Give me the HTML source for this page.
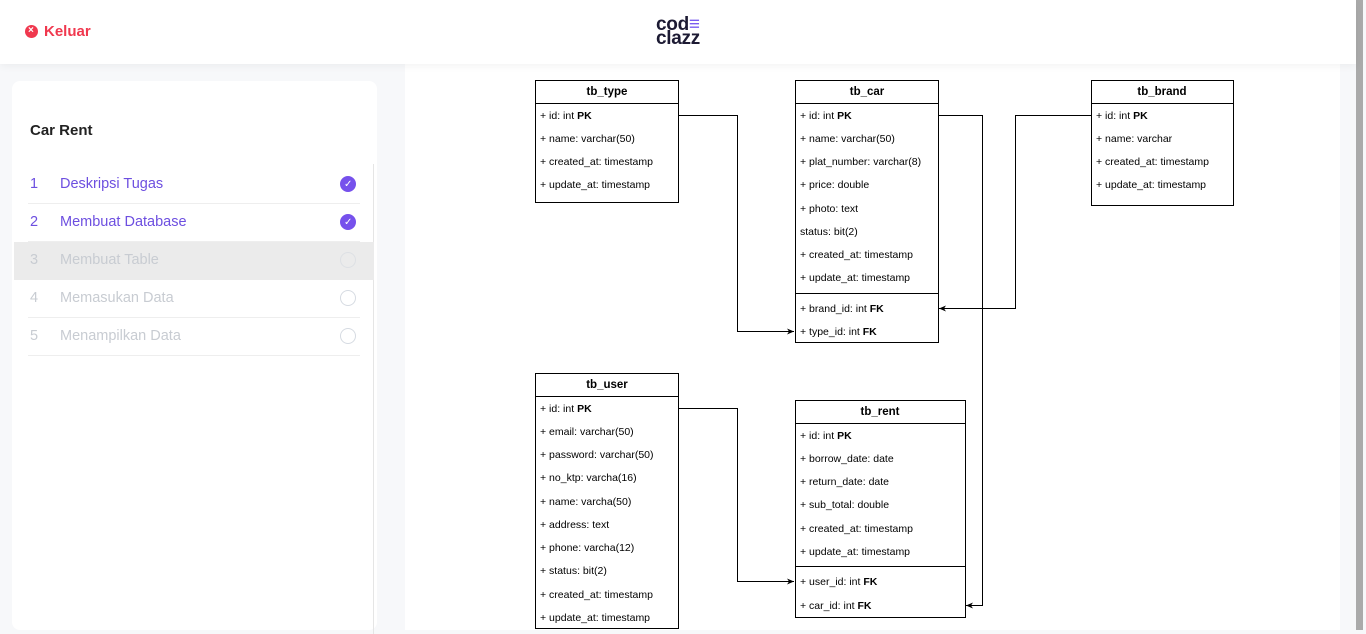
<!DOCTYPE html>
<html><head><meta charset="utf-8"><style>
html,body{margin:0;padding:0;width:1366px;height:630px;overflow:hidden;background:#f7f8fa;font-family:"Liberation Sans",sans-serif;}
.header{position:absolute;left:0;top:0;width:1356px;height:64px;background:#fff;box-shadow:0 2px 8px rgba(0,0,0,0.05);z-index:2}
.keluar{position:absolute;left:25px;top:23px;color:#f0384e;font-weight:bold;font-size:15px;line-height:18px}
.keluar span{display:inline-block;width:13px;height:13px;border-radius:50%;background:#f0384e;vertical-align:-2px;margin-right:6px;position:relative}
.keluar span:after{content:"×";position:absolute;left:3px;top:-3px;color:#fff;font-size:10px}
.logo{position:absolute;left:656px;top:18px;font-weight:bold;font-size:19px;line-height:14px;color:#1c1a33;letter-spacing:-0.3px}
.card{position:absolute;left:12px;top:81px;width:365px;height:549px;background:#fff;border-radius:8px}
.card h2{position:absolute;left:18px;top:41px;margin:0;font-size:15px;font-weight:bold;color:#222}
.vline{position:absolute;left:361px;top:83px;width:1px;height:470px;background:#e5e5e5}
.item{position:absolute;left:16px;width:332px;height:37px;border-bottom:1px solid #eee;font-size:14.5px;line-height:37px}
.item .n{position:absolute;left:2px}
.item .t{position:absolute;left:32px}
.item .c{position:absolute;right:4px;top:10px;width:14px;height:14px;border-radius:50%;border:1.5px solid #d6dbe2}
.item.done{color:#6d4fe0}
.item.done .c{background:#7651ec;border-color:#7651ec}
.item.done .c:after{content:"✓";color:#fff;font-size:10px;position:absolute;left:3px;top:-11px}
.item.dim{color:#c8ccd2}
.hl{position:absolute;left:2px;top:161px;width:360px;height:38px;background:#ebebeb}
.panel{position:absolute;left:405px;top:64px;width:935px;height:566px;background:#fff}
.scroll{position:absolute;left:1356px;top:0;width:7px;height:630px;background:#aaa}
svg{position:absolute;left:0;top:0}
svg text{font-family:"Liberation Sans",sans-serif;font-size:10.5px;fill:#000}
svg .h{font-weight:bold;font-size:11.5px}
</style></head><body>
<div class="panel"></div>
<div class="header"><div class="keluar"><span></span>Keluar</div>
<div class="logo">cod<span style="color:#7b5cf0">≡</span><br>clazz</div></div>
<div class="card"><h2>Car Rent</h2>
<div class="vline"></div>
<div class="hl"></div>
<div class="item done" style="top:85px"><span class="n">1</span><span class="t">Deskripsi Tugas</span><span class="c"></span></div>
<div class="item done" style="top:123px"><span class="n">2</span><span class="t">Membuat Database</span><span class="c"></span></div>
<div class="item dim" style="top:161px;border-bottom:none"><span class="n">3</span><span class="t">Membuat Table</span><span class="c" style="border-color:#dde0e4"></span></div>
<div class="item dim" style="top:199px"><span class="n">4</span><span class="t">Memasukan Data</span><span class="c"></span></div>
<div class="item dim" style="top:237px"><span class="n">5</span><span class="t">Menampilkan Data</span><span class="c"></span></div>
</div>
<div class="scroll"></div>
<svg width="1366" height="630" viewBox="0 0 1366 630">
<defs><marker id="a" markerWidth="8" markerHeight="8" refX="7" refY="4" orient="auto" markerUnits="userSpaceOnUse"><path d="M0,1 L7,4 L0,7 L2,4 Z" fill="#000"/></marker></defs>
<g fill="none" stroke="#000" stroke-width="1">
<rect x="535.5" y="80.5" width="143" height="122"/><line x1="535" y1="103.5" x2="678" y2="103.5"/>
<rect x="795.5" y="80.5" width="143" height="262"/><line x1="795" y1="103.5" x2="938" y2="103.5"/><line x1="795" y1="293.5" x2="938" y2="293.5"/>
<rect x="1091.5" y="80.5" width="142" height="125"/><line x1="1091" y1="103.5" x2="1233" y2="103.5"/>
<rect x="535.5" y="373.5" width="143" height="255"/><line x1="535" y1="396.5" x2="678" y2="396.5"/>
<rect x="795.5" y="400.5" width="170" height="217"/><line x1="795" y1="423.5" x2="965" y2="423.5"/><line x1="795" y1="566.5" x2="965" y2="566.5"/>
<polyline points="678,115.5 737.5,115.5 737.5,331.5 794,331.5" marker-end="url(#a)"/>
<polyline points="938,115.5 982.5,115.5 982.5,605.5 966,605.5" marker-end="url(#a)"/>
<polyline points="1091,115.5 1015.5,115.5 1015.5,308.5 939,308.5" marker-end="url(#a)"/>
<polyline points="678,408.5 737.5,408.5 737.5,581.5 794,581.5" marker-end="url(#a)"/>
</g>
<text class="h" x="607" y="95" text-anchor="middle">tb_type</text>
<text x="540" y="119">+ id: int <tspan font-weight="bold">PK</tspan></text>
<text x="540" y="142">+ name: varchar(50)</text>
<text x="540" y="165">+ created_at: timestamp</text>
<text x="540" y="188">+ update_at: timestamp</text>

<text class="h" x="867" y="95" text-anchor="middle">tb_car</text>
<text x="800" y="119">+ id: int <tspan font-weight="bold">PK</tspan></text>
<text x="800" y="142">+ name: varchar(50)</text>
<text x="800" y="165">+ plat_number: varchar(8)</text>
<text x="800" y="188">+ price: double</text>
<text x="800" y="212">+ photo: text</text>
<text x="800" y="235">status: bit(2)</text>
<text x="800" y="258">+ created_at: timestamp</text>
<text x="800" y="281">+ update_at: timestamp</text>
<text x="800" y="312">+ brand_id: int <tspan font-weight="bold">FK</tspan></text>
<text x="800" y="335">+ type_id: int <tspan font-weight="bold">FK</tspan></text>

<text class="h" x="1162" y="95" text-anchor="middle">tb_brand</text>
<text x="1096" y="119">+ id: int <tspan font-weight="bold">PK</tspan></text>
<text x="1096" y="142">+ name: varchar</text>
<text x="1096" y="165">+ created_at: timestamp</text>
<text x="1096" y="188">+ update_at: timestamp</text>

<text class="h" x="607" y="388" text-anchor="middle">tb_user</text>
<text x="540" y="412">+ id: int <tspan font-weight="bold">PK</tspan></text>
<text x="540" y="435">+ email: varchar(50)</text>
<text x="540" y="458">+ password: varchar(50)</text>
<text x="540" y="481">+ no_ktp: varcha(16)</text>
<text x="540" y="505">+ name: varcha(50)</text>
<text x="540" y="528">+ address: text</text>
<text x="540" y="551">+ phone: varcha(12)</text>
<text x="540" y="574">+ status: bit(2)</text>
<text x="540" y="598">+ created_at: timestamp</text>
<text x="540" y="621">+ update_at: timestamp</text>

<text class="h" x="880" y="415" text-anchor="middle">tb_rent</text>
<text x="800" y="439">+ id: int <tspan font-weight="bold">PK</tspan></text>
<text x="800" y="462">+ borrow_date: date</text>
<text x="800" y="485">+ return_date: date</text>
<text x="800" y="508">+ sub_total: double</text>
<text x="800" y="532">+ created_at: timestamp</text>
<text x="800" y="555">+ update_at: timestamp</text>
<text x="800" y="585">+ user_id: int <tspan font-weight="bold">FK</tspan></text>
<text x="800" y="609">+ car_id: int <tspan font-weight="bold">FK</tspan></text>
</svg>
</body></html>
